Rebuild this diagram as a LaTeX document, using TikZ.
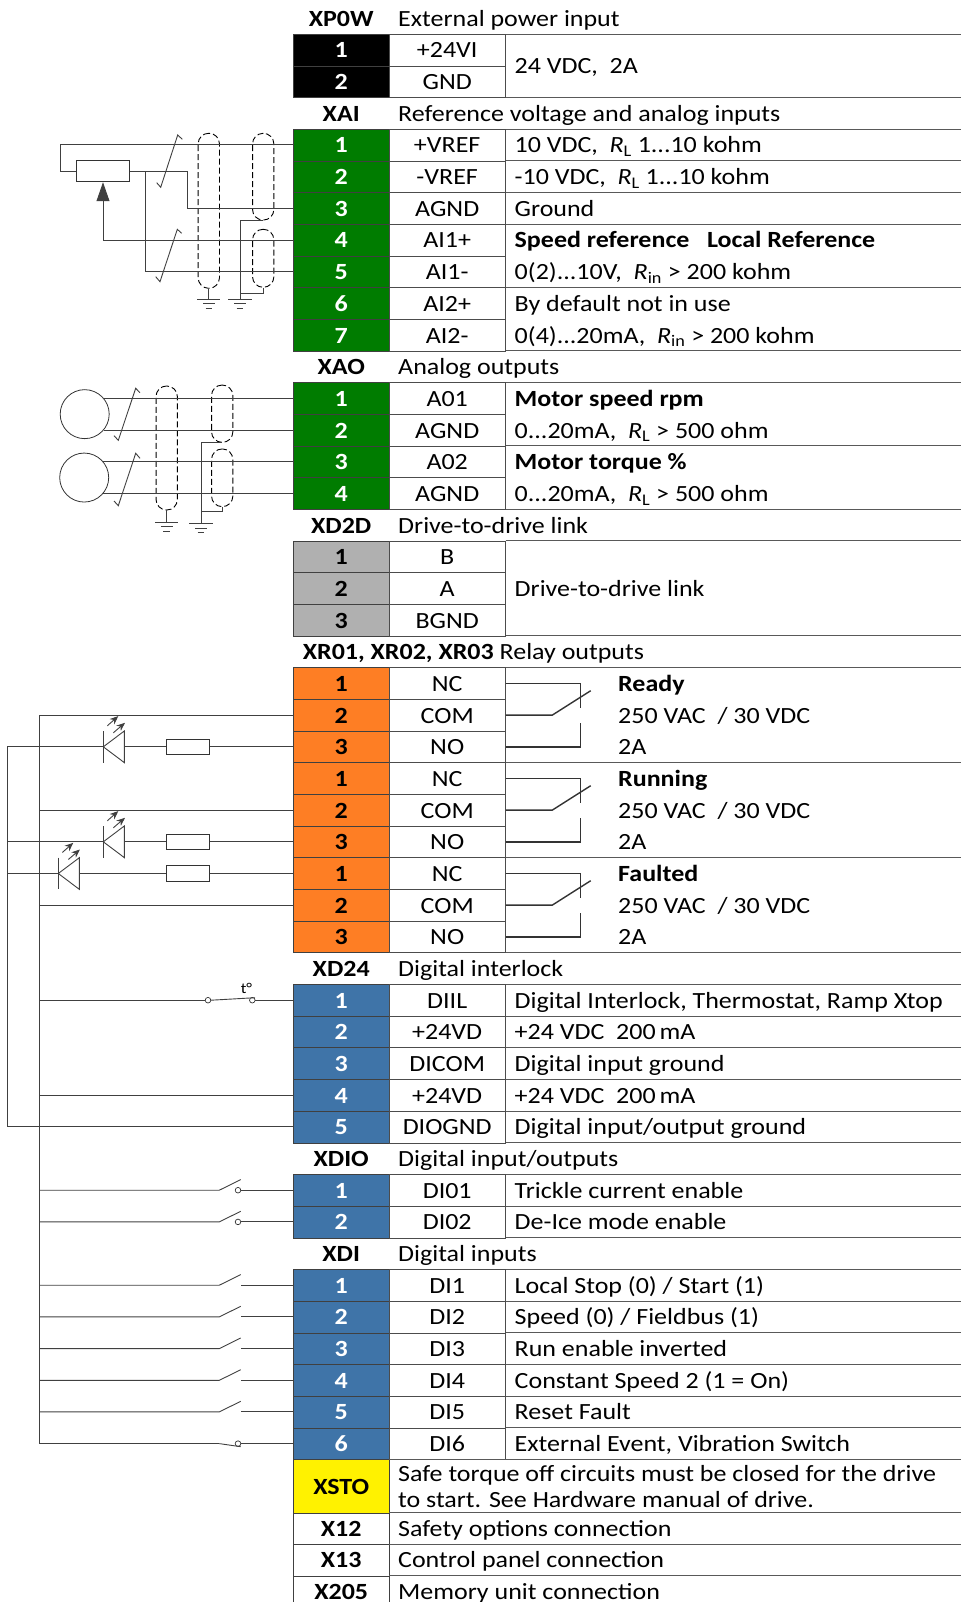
\documentclass[tikz,border=0pt]{standalone}
\usepackage{fontspec}
\setmainfont{Carlito}[FakeStretch=1.12]
\usetikzlibrary{arrows.meta}
\definecolor{pingreen}{RGB}{0,124,0}
\definecolor{pingrey}{RGB}{176,176,176}
\definecolor{pinorange}{RGB}{254,126,36}
\definecolor{pinblue}{RGB}{63,116,168}
\newcommand{\tabfont}{\fontsize{23.2}{26}\selectfont}
\tikzstyle{pin}=[shape=rectangle,
                draw=black!75,
                minimum width=95.4pt,
                minimum height=31.675pt,
                inner sep=0pt,
                text height=16pt,
                text depth=0pt,
                font=\tabfont\bfseries]
\tikzstyle{pk}=[pin,fill=black,text=white]
\tikzstyle{pg}=[pin,fill=pingreen,text=white]
\tikzstyle{py}=[pin,fill=pingrey]
\tikzstyle{po}=[pin,fill=pinorange]
\tikzstyle{pb}=[pin,fill=pinblue,text=white]
\tikzstyle{sig}=[shape=rectangle,
                draw=black!70,
                minimum width=116.8pt,
                minimum height=31.675pt,
                inner sep=0pt,
                text height=16pt,
                text depth=0pt]
\tikzstyle{lab}=[anchor=west,inner sep=0pt,text height=16pt,text depth=0pt]
\tikzstyle{hd}=[inner sep=0pt,text height=16pt,text depth=0pt,font=\tabfont\bfseries]
\tikzstyle{wire}=[draw=black!75,line width=0.9pt]
\tikzstyle{contact}=[draw=black!80,line width=1.4pt]
\tikzstyle{shield}=[shape=rectangle,draw=black,dash pattern=on 6pt off 3pt,rounded corners=10.5pt,line width=0.9pt,inner sep=0pt,minimum width=21.3pt]
\tikzstyle{res}=[shape=rectangle,draw=black!80,fill=white,line width=0.9pt,inner sep=0pt,minimum width=42.7pt,minimum height=15.3pt]
\tikzstyle{term}=[shape=circle,draw=black!80,fill=white,line width=0.7pt,inner sep=0pt,minimum size=5.6pt]
\newcommand{\gnd}[1]{%
  \draw[wire] (#1) ++(-11.6,0) -- ++(23.2,0);
  \draw[wire] (#1) ++(-5.8,4.7) -- ++(11.6,0);
  \draw[wire] (#1) ++(-3.3,9.3) -- ++(6.6,0);
}
\newcommand{\led}[1]{%
  \draw[wire] (#1) -- ++(21,-15.8) -- ++(0,31.6) -- cycle;
  \draw[wire] (#1) ++(0,-15.8) -- ++(0,31.6);
  \draw[wire,-{Stealth[length=8.5pt,width=7pt]}] (#1) ++(4,-21) -- ++(11,-9.7);
  \draw[wire,-{Stealth[length=8.5pt,width=7pt]}] (#1) ++(10,-14) -- ++(11.7,-10);
}

\begin{document}
\begin{tikzpicture}[>=stealth,x=1pt,y=-1pt,font=\tabfont]
\useasboundingbox (0,0) rectangle (961,1602);

% XP0W
\node[hd] (pwh) at (341.2,18.2) {XP0W};
\node[lab] (pwd) at (398,18.2) {External power input};
\node[pk] (pw1) at (341.2,49.9) {1};
\node[pk] (pw2) at (341.2,81.6) {2};
\node[sig] (pw1n) at (447.2,49.9) {+24VI};
\node[sig] (pw2n) at (447.2,81.6) {GND};
\node[lab] (pw1t) at (514.5,65.7) {24 VDC,\ \ 2A};

% XAI
\node[hd] (aih) at (341.2,113.3) {XAI};
\node[lab] (aid) at (398,113.3) {Reference voltage and analog inputs};
\node[pg] (ai1) at (341.2,144.9) {1};
\node[pg] (ai2) at (341.2,176.6) {2};
\node[pg] (ai3) at (341.2,208.3) {3};
\node[pg] (ai4) at (341.2,240) {4};
\node[pg] (ai5) at (341.2,271.6) {5};
\node[pg] (ai6) at (341.2,303.3) {6};
\node[pg] (ai7) at (341.2,335) {7};
\node[sig] (ai1n) at (447.2,144.9) {+VREF};
\node[sig] (ai2n) at (447.2,176.6) {-VREF};
\node[sig] (ai3n) at (447.2,208.3) {AGND};
\node[sig] (ai4n) at (447.2,240) {AI1+};
\node[sig] (ai5n) at (447.2,271.6) {AI1-};
\node[sig] (ai6n) at (447.2,303.3) {AI2+};
\node[sig] (ai7n) at (447.2,335) {AI2-};
\node[lab] (ai1t) at (514.5,144.9) {10 VDC,\ \ \textit{R}\textsubscript{L} 1...10 kohm};
\node[lab] (ai2t) at (514.5,176.6) {-10 VDC,\ \ \textit{R}\textsubscript{L} 1...10 kohm};
\node[lab] (ai3t) at (514.5,208.3) {Ground};
\node[lab] (ai4t) at (514.5,240) {\textbf{Speed reference\ \ \ Local Reference}};
\node[lab] (ai5t) at (514.5,271.6) {0(2)...10V,\ \ \textit{R}\textsubscript{in} > 200 kohm};
\node[lab] (ai6t) at (514.5,303.3) {By default not in use};
\node[lab] (ai7t) at (514.5,335) {0(4)...20mA,\ \ \textit{R}\textsubscript{in} > 200 kohm};

% XAO
\node[hd] (aoh) at (341.2,366.7) {XAO};
\node[lab] (aod) at (398,366.7) {Analog outputs};
\node[pg] (ao1) at (341.2,398.3) {1};
\node[pg] (ao2) at (341.2,430) {2};
\node[pg] (ao3) at (341.2,461.7) {3};
\node[pg] (ao4) at (341.2,493.4) {4};
\node[sig] (ao1n) at (447.2,398.3) {A01};
\node[sig] (ao2n) at (447.2,430) {AGND};
\node[sig] (ao3n) at (447.2,461.7) {A02};
\node[sig] (ao4n) at (447.2,493.4) {AGND};
\node[lab] (ao1t) at (514.5,398.3) {\textbf{Motor speed rpm}};
\node[lab] (ao2t) at (514.5,430) {0...20mA,\ \ \textit{R}\textsubscript{L} > 500 ohm};
\node[lab] (ao3t) at (514.5,461.7) {\textbf{Motor torque \%}};
\node[lab] (ao4t) at (514.5,493.4) {0...20mA,\ \ \textit{R}\textsubscript{L} > 500 ohm};

% XD2D
\node[hd] (ddh) at (341.2,525) {XD2D};
\node[lab] (ddd) at (398,525) {Drive-to-drive link};
\node[py] (dd1) at (341.2,556.7) {1};
\node[py] (dd2) at (341.2,588.4) {2};
\node[py] (dd3) at (341.2,620.1) {3};
\node[sig] (dd1n) at (447.2,556.7) {B};
\node[sig] (dd2n) at (447.2,588.4) {A};
\node[sig] (dd3n) at (447.2,620.1) {BGND};
\node[lab] (dd2t) at (514.5,588.4) {Drive-to-drive link};

% XR01, XR02, XR03
\node[lab] (xrh) at (302.6,651.7) {\textbf{XR01, XR02, XR03} Relay outputs};
\node[po] (ra1) at (341.2,683.4) {1};
\node[po] (ra2) at (341.2,715.1) {2};
\node[po] (ra3) at (341.2,746.8) {3};
\node[po] (rb1) at (341.2,778.4) {1};
\node[po] (rb2) at (341.2,810.1) {2};
\node[po] (rb3) at (341.2,841.8) {3};
\node[po] (rc1) at (341.2,873.5) {1};
\node[po] (rc2) at (341.2,905.1) {2};
\node[po] (rc3) at (341.2,936.8) {3};
\node[sig] (ra1n) at (447.2,683.4) {NC};
\node[sig] (ra2n) at (447.2,715.1) {COM};
\node[sig] (ra3n) at (447.2,746.8) {NO};
\node[sig] (rb1n) at (447.2,778.4) {NC};
\node[sig] (rb2n) at (447.2,810.1) {COM};
\node[sig] (rb3n) at (447.2,841.8) {NO};
\node[sig] (rc1n) at (447.2,873.5) {NC};
\node[sig] (rc2n) at (447.2,905.1) {COM};
\node[sig] (rc3n) at (447.2,936.8) {NO};
\node[lab] (ra1t) at (618,683.4) {\textbf{Ready}};
\node[lab] (ra2t) at (618,715.1) {250 VAC\ \ / 30 VDC};
\node[lab] (ra3t) at (618,746.8) {2A};
\node[lab] (rb1t) at (618,778.4) {\textbf{Running}};
\node[lab] (rb2t) at (618,810.1) {250 VAC\ \ / 30 VDC};
\node[lab] (rb3t) at (618,841.8) {2A};
\node[lab] (rc1t) at (618,873.5) {\textbf{Faulted}};
\node[lab] (rc2t) at (618,905.1) {250 VAC\ \ / 30 VDC};
\node[lab] (rc3t) at (618,936.8) {2A};

% XD24
\node[hd] (dgh) at (341.2,968.5) {XD24};
\node[lab] (dgd) at (398,968.5) {Digital interlock};
\node[pb] (dg1) at (341.2,1000.2) {1};
\node[pb] (dg2) at (341.2,1031.8) {2};
\node[pb] (dg3) at (341.2,1063.5) {3};
\node[pb] (dg4) at (341.2,1095.2) {4};
\node[pb] (dg5) at (341.2,1126.9) {5};
\node[sig] (dg1n) at (447.2,1000.2) {DIIL};
\node[sig] (dg2n) at (447.2,1031.8) {+24VD};
\node[sig] (dg3n) at (447.2,1063.5) {DICOM};
\node[sig] (dg4n) at (447.2,1095.2) {+24VD};
\node[sig] (dg5n) at (447.2,1126.9) {DIOGND};
\node[lab] (dg1t) at (514.5,1000.2) {Digital Interlock, Thermostat, Ramp Xtop};
\node[lab] (dg2t) at (514.5,1031.8) {+24 VDC\ \ 200\,mA};
\node[lab] (dg3t) at (514.5,1063.5) {Digital input ground};
\node[lab] (dg4t) at (514.5,1095.2) {+24 VDC\ \ 200\,mA};
\node[lab] (dg5t) at (514.5,1126.9) {Digital input/output ground};

% XDIO
\node[hd] (ioh) at (341.2,1158.5) {XDIO};
\node[lab] (iod) at (398,1158.5) {Digital input/outputs};
\node[pb] (io1) at (341.2,1190.2) {1};
\node[pb] (io2) at (341.2,1221.9) {2};
\node[sig] (io1n) at (447.2,1190.2) {DI01};
\node[sig] (io2n) at (447.2,1221.9) {DI02};
\node[lab] (io1t) at (514.5,1190.2) {Trickle current enable};
\node[lab] (io2t) at (514.5,1221.9) {De-Ice mode enable};

% XDI
\node[hd] (dih) at (341.2,1253.6) {XDI};
\node[lab] (did) at (398,1253.6) {Digital inputs};
\node[pb] (di1) at (341.2,1285.2) {1};
\node[pb] (di2) at (341.2,1316.9) {2};
\node[pb] (di3) at (341.2,1348.6) {3};
\node[pb] (di4) at (341.2,1380.3) {4};
\node[pb] (di5) at (341.2,1411.9) {5};
\node[pb] (di6) at (341.2,1443.6) {6};
\node[sig] (di1n) at (447.2,1285.2) {DI1};
\node[sig] (di2n) at (447.2,1316.9) {DI2};
\node[sig] (di3n) at (447.2,1348.6) {DI3};
\node[sig] (di4n) at (447.2,1380.3) {DI4};
\node[sig] (di5n) at (447.2,1411.9) {DI5};
\node[sig] (di6n) at (447.2,1443.6) {DI6};
\node[lab] (di1t) at (514.5,1285.2) {Local Stop (0) / Start (1)};
\node[lab] (di2t) at (514.5,1316.9) {Speed (0) / Fieldbus (1)};
\node[lab] (di3t) at (514.5,1348.6) {Run enable inverted};
\node[lab] (di4t) at (514.5,1380.3) {Constant Speed 2 (1 = On)};
\node[lab] (di5t) at (514.5,1411.9) {Reset Fault};
\node[lab] (di6t) at (514.5,1443.6) {External Event, Vibration Switch};

% XSTO and the single connectors
\node[pin,fill=yellow,minimum height=53.2pt] (sto) at (341.2,1486.1) {XSTO};
\node[anchor=west,inner sep=0pt,align=left] (stot) at (398,1486.8) {Safe torque off circuits must be closed for the drive\\to start. See Hardware manual of drive.};
\node[pin,minimum height=31.4pt] (x12) at (341.2,1528.4) {X12};
\node[lab] (x12t) at (398,1528.4) {Safety options connection};
\node[pin,minimum height=31.7pt] (x13) at (341.2,1559.9) {X13};
\node[lab] (x13t) at (398,1559.9) {Control panel connection};
\node[pin,minimum height=26.3pt,text height=21pt] (x205) at (341.2,1588.9) {X205};
\node[lab] (x205t) at (398,1591.4) {Memory unit connection};

% table rules
\draw[wire,draw=black!65]
  (505.6,34.1) -- (961,34.1) (505.6,97.4) -- (961,97.4)
  (505.6,129.1) -- (961,129.1) (505.6,160.8) -- (961,160.8) (505.6,192.5) -- (961,192.5)
  (505.6,224.1) -- (961,224.1) (505.6,287.5) -- (961,287.5) (505.6,350.8) -- (961,350.8)
  (505.6,382.5) -- (961,382.5) (505.6,445.9) -- (961,445.9) (505.6,509.2) -- (961,509.2)
  (505.6,540.9) -- (961,540.9) (505.6,635.9) -- (961,635.9)
  (505.6,667.6) -- (961,667.6) (505.6,762.6) -- (961,762.6) (505.6,857.6) -- (961,857.6) (505.6,952.7) -- (961,952.7)
  (505.6,984.3) -- (961,984.3) (505.6,1016) -- (961,1016) (505.6,1047.7) -- (961,1047.7)
  (505.6,1079.4) -- (961,1079.4) (505.6,1111) -- (961,1111) (505.6,1142.7) -- (961,1142.7)
  (505.6,1174.4) -- (961,1174.4) (505.6,1206.1) -- (961,1206.1) (505.6,1237.7) -- (961,1237.7)
  (505.6,1269.4) -- (961,1269.4) (505.6,1301.1) -- (961,1301.1) (505.6,1332.8) -- (961,1332.8)
  (505.6,1364.4) -- (961,1364.4) (505.6,1396.1) -- (961,1396.1) (505.6,1427.8) -- (961,1427.8)
  (389,1459.5) -- (961,1459.5) (389,1512.7) -- (961,1512.7) (389,1544) -- (961,1544) (389,1575.7) -- (961,1575.7);

% potentiometer on XAI
\node[res,minimum width=53.4pt,minimum height=21.4pt] (pot) at (103,171.1) {};
\node[shield,minimum height=155pt] (s1) at (208.8,210.8) {};
\node[shield,minimum height=86.7pt] (s2) at (263.2,176.7) {};
\node[shield,minimum height=58pt] (s3) at (263.2,258.3) {};
\coordinate (g1) at (208.8,299);
\coordinate (g2) at (240,299);
\draw[wire] (ai1.west) -- (60.7,144.9) |- (pot.west);
\draw[wire] (pot.east) -- (187.7,171.1) |- (ai3.west);
\draw[wire,-{Triangle[length=19pt,width=13pt]}] (ai4.west) -| (pot.south);
\draw[wire] (ai5.west) -| (pot.east -| 145.3,171.1);
\draw[wire] (156.7,182.7) -- (160.7,187.3) -- (177.7,135) -- (182.3,139.3);
\draw[wire] (155.7,276.7) -- (160,281.7) -- (177.3,229.3) -- (181.7,233.3);
\draw[wire] (s1.south) -- (g1);
\draw[wire] (g2) |- (s2.south);
\draw[wire] (s3.south) |- (g2 |- 0,293.3);
\gnd{g1}
\gnd{g2}

% meters on XAO
\node[shape=circle,draw=black!80,line width=0.8pt,inner sep=0pt,minimum size=49pt] (m1) at (84.7,414.15) {};
\node[shape=circle,draw=black!80,line width=0.8pt,inner sep=0pt,minimum size=49pt] (m2) at (84.2,477.55) {};
\node[shield,minimum height=124pt] (s4) at (166.7,448) {};
\node[shield,minimum height=57.3pt] (s5) at (222.2,413.7) {};
\node[shield,minimum height=57.7pt] (s6) at (222.2,477.8) {};
\coordinate (g3) at (166.7,522);
\coordinate (g4) at (201,523.3);
\draw[wire] (ao1.west) -- (ao1.west -| m1.40);
\draw[wire] (ao2.west) -- (ao2.west -| m1.-40);
\draw[wire] (ao3.west) -- (ao3.west -| m2.40);
\draw[wire] (ao4.west) -- (ao4.west -| m2.-40);
\draw[wire] (114,435.7) -- (118.3,440.3) -- (135.7,388.3) -- (140,392.7);
\draw[wire] (114,501) -- (118.3,505.7) -- (135.7,453.3) -- (140,458.3);
\draw[wire] (s4.south) -- (g3);
\draw[wire] (g4) |- (s5.south);
\draw[wire] (s6.south) |- (g4 |- 0,511.7);
\gnd{g3}
\gnd{g4}

% relay contacts
\draw[contact] (ra1n.east) -| (580.7,708);
\draw[contact] (ra2n.east) -- (552.3,715.1) -- (590.7,690.7);
\draw[contact] (ra3n.east) -| (580.7,722.7);
\draw[contact] (rb1n.east) -| (580.7,803);
\draw[contact] (rb2n.east) -- (552.3,810.1) -- (590.7,785.7);
\draw[contact] (rb3n.east) -| (580.7,817.7);
\draw[contact] (rc1n.east) -| (580.7,898);
\draw[contact] (rc2n.east) -- (552.3,905.1) -- (590.7,880.7);
\draw[contact] (rc3n.east) -| (580.7,912.7);

% lamps on the relays
\coordinate (bus1) at (7.7,746.8);
\coordinate (bus2) at (39.7,715.1);
\coordinate (d1) at (103.3,746.8);
\coordinate (d1a) at (124.3,746.8);
\coordinate (d2) at (103.3,841.8);
\coordinate (d2a) at (124.3,841.8);
\coordinate (d3) at (58.3,873.5);
\coordinate (d3a) at (79.3,873.5);
\node[res] (r1) at (187.7,746.8) {};
\node[res] (r2) at (187.7,841.8) {};
\node[res] (r3) at (187.7,873.5) {};
\draw[wire] (ra3.west) -- (r1.east);
\draw[wire] (rb3.west) -- (r2.east);
\draw[wire] (rc1.west) -- (r3.east);
\draw[wire] (r1.west) -- (d1a);
\draw[wire] (r2.west) -- (d2a);
\draw[wire] (r3.west) -- (d3a);
\draw[wire] (d1) -- (bus1) |- (dg5.west);
\draw[wire] (d2) -- (d2 -| bus1);
\draw[wire] (d3) -- (d3 -| bus1);
\draw[wire] (ra2.west) -- (bus2) |- (di6.west -| 219.3,1443.6);
\draw[wire] (rb2.west) -- (rb2.west -| bus2);
\draw[wire] (rc2.west) -- (rc2.west -| bus2);
\led{d1}
\led{d2}
\led{d3}

% thermostat and interlock on XD24
\node[term] (t1) at (208,1000.2) {};
\node[term] (t2) at (252.3,1000.2) {};
\node[inner sep=0pt,font=\fontsize{15}{15}\selectfont] (tdeg) at (246.5,988.5) {t°};
\draw[wire] (t2) -- (dg1.west);
\draw[wire] (t1) -- (t1 -| bus2);
\draw[wire] (t1.east) -- (255,997.7);
\draw[wire] (dg4.west) -- (dg4.west -| bus2);

% switches on XDIO
\node[term] (w1) at (238,1190.2) {};
\node[term] (w2) at (238,1221.9) {};
\coordinate (w1a) at (219.3,1190.2);
\coordinate (w2a) at (219.3,1221.9);
\draw[wire] (w1) -- (io1.west);
\draw[wire] (w2) -- (io2.west);
\draw[wire] (w1a -| bus2) -- (w1a) -- ++(21.4,-10.6);
\draw[wire] (w2a -| bus2) -- (w2a) -- ++(21.4,-10.6);

% switches on XDI
\coordinate (sw1a) at (219.3,1285.2);
\coordinate (sw1b) at (240.7,1285.2);
\coordinate (sw2a) at (219.3,1316.9);
\coordinate (sw2b) at (240.7,1316.9);
\coordinate (sw3a) at (219.3,1348.6);
\coordinate (sw3b) at (240.7,1348.6);
\coordinate (sw4a) at (219.3,1380.3);
\coordinate (sw4b) at (240.7,1380.3);
\coordinate (sw5a) at (219.3,1411.9);
\coordinate (sw5b) at (240.7,1411.9);
\coordinate (sw6a) at (219.3,1443.6);
\node[term] (sw6b) at (238,1443.6) {};
\draw[wire] (di1.west) -- (sw1b);
\draw[wire] (di2.west) -- (sw2b);
\draw[wire] (di3.west) -- (sw3b);
\draw[wire] (di4.west) -- (sw4b);
\draw[wire] (di5.west) -- (sw5b);
\draw[wire] (di6.west) -- (sw6b);
\draw[wire] (sw1a -| bus2) -- (sw1a) -- ++(21.4,-10.6);
\draw[wire] (sw2a -| bus2) -- (sw2a) -- ++(21.4,-10.6);
\draw[wire] (sw3a -| bus2) -- (sw3a) -- ++(21.4,-10.6);
\draw[wire] (sw4a -| bus2) -- (sw4a) -- ++(21.4,-10.6);
\draw[wire] (sw5a -| bus2) -- (sw5a) -- ++(21.4,-10.6);
\draw[wire] (sw6a) -- ++(21.4,3.1);

\end{tikzpicture}
\end{document}
